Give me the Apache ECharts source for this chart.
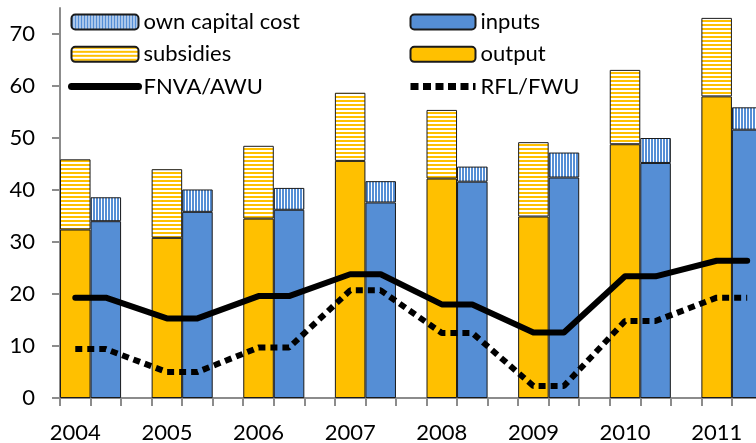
<!DOCTYPE html>
<html>
<head>
<meta charset="utf-8">
<script src="https://cdn.jsdelivr.net/npm/echarts@6/dist/echarts.min.js"></script>
<style>
html,body{margin:0;padding:0;background:#fff;}
#chart{width:756px;height:443px;}
</style>
</head>
<body>
<div id="chart"></div>
<script>
var years = ['2004','2005','2006','2007','2008','2009','2010','2011'];
var output = [32.4, 30.8, 34.5, 45.6, 42.2, 34.9, 48.8, 58.0];
var subsidies = [13.5, 13.2, 14.0, 13.1, 13.2, 14.3, 14.3, 15.1];
var inputs = [34.0, 35.8, 36.2, 37.6, 41.6, 42.4, 45.2, 51.6];
var ownCapital = [4.6, 4.3, 4.2, 4.1, 2.9, 4.8, 4.8, 4.3];
var fnvaAwu = [19.3, 15.3, 19.6, 23.8, 18.0, 12.6, 23.4, 26.4];
var rflFwu = [9.4, 5.0, 9.7, 20.7, 12.5, 2.3, 14.8, 19.3];
var yTicks = [0, 10, 20, 30, 40, 50, 60, 70];

var YELLOW = '#FFC000', BLUE = '#558ED5';

function makePattern(w, h, fn) {
  var c = document.createElement('canvas');
  c.width = w; c.height = h;
  var ctx = c.getContext('2d');
  ctx.fillStyle = '#fff'; ctx.fillRect(0, 0, w, h);
  fn(ctx);
  return { image: c, repeat: 'repeat' };
}
var hPattern = makePattern(4, 4, function (ctx) { ctx.fillStyle = YELLOW; ctx.fillRect(0, 0, 4, 2); });
var vPattern = makePattern(3, 3, function (ctx) { ctx.fillStyle = BLUE; ctx.fillRect(0, 0, 2, 3); });

// Build slot layout: each year = [output slot, inputs slot, gap slot]
var cats = [], outD = [], subD = [], inD = [], ownD = [], fnD = [], rflD = [];
years.forEach(function (y, i) {
  cats.push(y, '_' + (3 * i + 1), '_' + (3 * i + 2));
  outD.push(output[i], '-', '-');
  subD.push(subsidies[i], '-', '-');
  inD.push('-', inputs[i], '-');
  ownD.push('-', ownCapital[i], '-');
  fnD.push(fnvaAwu[i], fnvaAwu[i], null);
  rflD.push(rflFwu[i], rflFwu[i], null);
});

var FONT = 'Lato';
var FS = 22;
var barBorder = { borderColor: '#1a1a1a', borderWidth: 1 };
var noSym = { opacity: 0 };

var chart = echarts.init(document.getElementById('chart'), null, { renderer: 'canvas' });
chart.setOption({
  animation: false,
  textStyle: { fontFamily: FONT },
  grid: { left: 60, top: 8, bottom: 45, width: 733, containLabel: false, outerBoundsMode: 'none' },
  legend: [
    {
      left: 68, top: 10, orient: 'vertical', padding: 0,
      itemWidth: 67, itemHeight: 15, itemGap: 8.3,
      textStyle: { fontFamily: FONT, fontSize: FS, color: '#000', lineHeight: 24 },
      data: ['own capital cost', 'subsidies',
        { name: 'FNVA/AWU', itemStyle: noSym, lineStyle: { width: 7, cap: 'round', color: '#000' } }]
    },
    {
      left: 407, top: 10, orient: 'vertical', padding: 0,
      itemWidth: 65, itemHeight: 15, itemGap: 8.3,
      textStyle: { fontFamily: FONT, fontSize: FS, color: '#000', lineHeight: 24 },
      data: ['inputs', 'output',
        { name: 'RFL/FWU', itemStyle: noSym, lineStyle: { width: 7, type: [8, 4.5], cap: 'butt', color: '#000' } }]
    }
  ],
  xAxis: {
    type: 'category',
    data: cats,
    boundaryGap: true,
    axisLine: { lineStyle: { color: '#8c8c8c', width: 2 } },
    axisTick: { show: true, interval: 0, length: 8, lineStyle: { color: '#8c8c8c', width: 2 } },
    axisLabel: {
      interval: 0, margin: 24, fontSize: FS, color: '#000', fontFamily: FONT,
      formatter: function (v) { return v.charAt(0) === '_' ? '' : v; }
    },
    splitLine: { show: false }
  },
  yAxis: {
    type: 'value',
    min: 0, max: 75, interval: 10,
    axisLine: { show: true, lineStyle: { color: '#8c8c8c', width: 2 } },
    axisTick: { show: true, length: 8, customValues: yTicks, lineStyle: { color: '#8c8c8c', width: 2 } },
    axisLabel: { margin: 25, fontSize: FS, color: '#000', fontFamily: FONT, customValues: yTicks },
    splitLine: { show: false }
  },
  series: [
    { name: 'output', type: 'bar', stack: 's', barCategoryGap: '0%', barGap: '0%', data: outD,
      itemStyle: Object.assign({ color: YELLOW }, barBorder) },
    { name: 'inputs', type: 'bar', stack: 's', barCategoryGap: '0%', barGap: '0%', data: inD,
      itemStyle: Object.assign({ color: BLUE }, barBorder) },
    { name: 'subsidies', type: 'bar', stack: 's', barCategoryGap: '0%', barGap: '0%', data: subD,
      itemStyle: Object.assign({ color: hPattern }, barBorder) },
    { name: 'own capital cost', type: 'bar', stack: 's', barCategoryGap: '0%', barGap: '0%', data: ownD,
      itemStyle: Object.assign({ color: vPattern }, barBorder) },
    { name: 'FNVA/AWU', type: 'line', data: fnD, connectNulls: true, symbol: 'none', showSymbol: false,
      lineStyle: { color: '#000', width: 6, cap: 'round', join: 'round' }, itemStyle: { color: '#000' }, z: 5 },
    { name: 'RFL/FWU', type: 'line', data: rflD, connectNulls: true, symbol: 'none', showSymbol: false,
      lineStyle: { color: '#000', width: 6, type: [7, 5], cap: 'butt' }, itemStyle: { color: '#000' }, z: 5 }
  ]
});
</script>
</body>
</html>
